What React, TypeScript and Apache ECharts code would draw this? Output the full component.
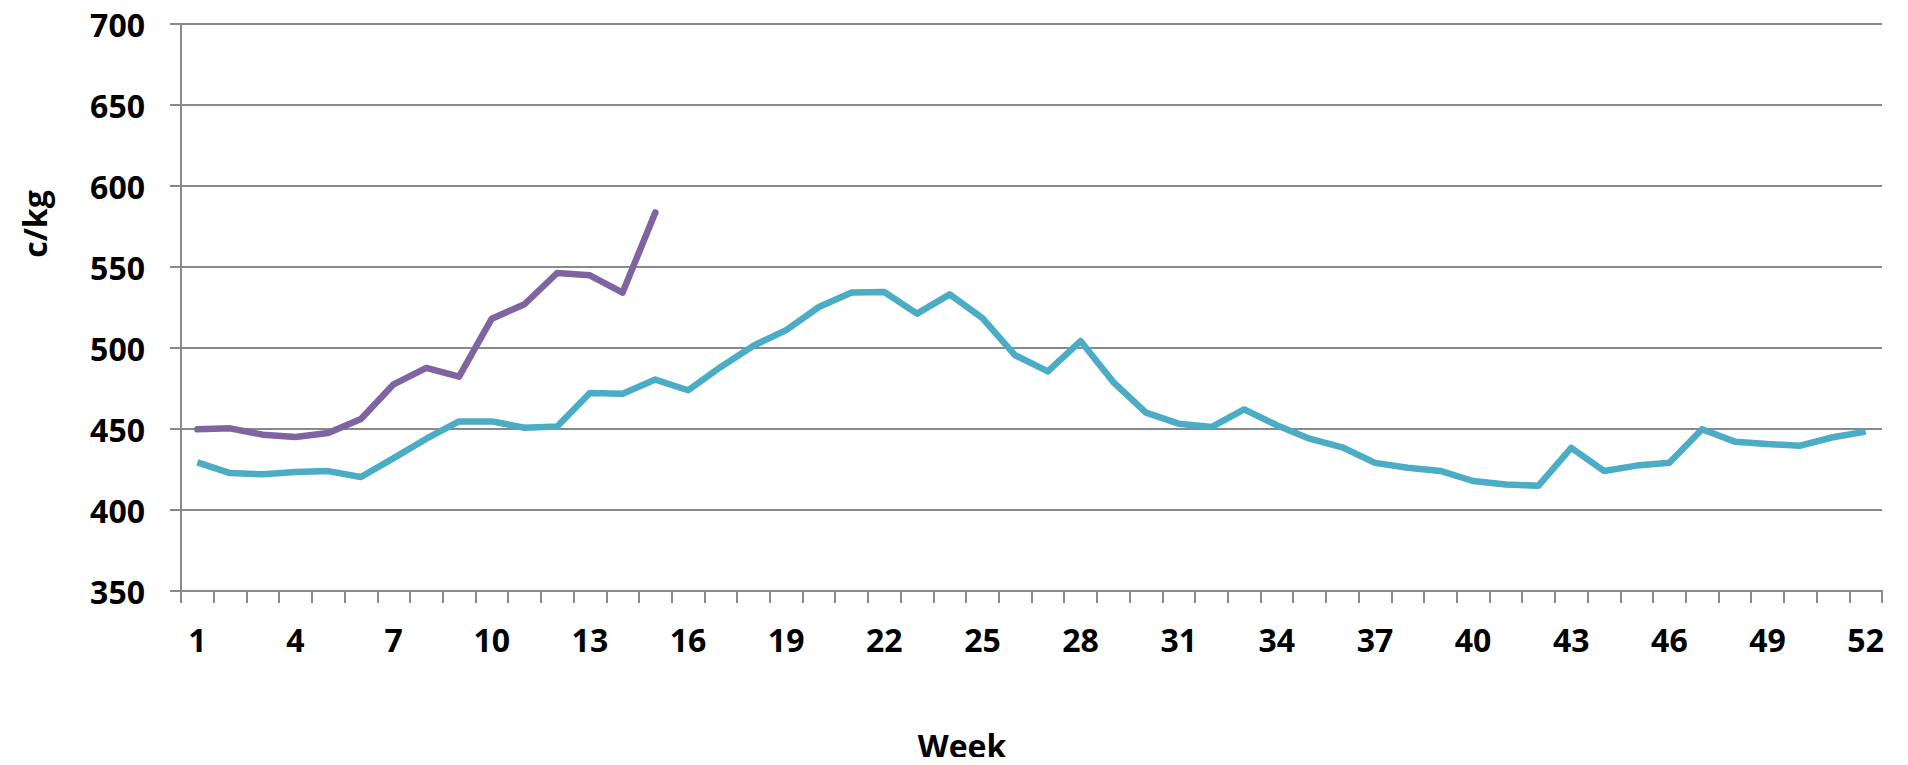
import React, { useEffect, useRef } from "react";
import * as echarts from "echarts";

const weeks: string[] = Array.from({ length: 52 }, (_, i) => String(i + 1));

const seriesBlue: number[] = [
  429.4, 422.8, 422, 423.5, 424, 420.4, 432, 444, 454.7, 454.7,
  450.8, 451.6, 472.2, 471.8, 480.5, 473.9, 488.3, 501.4, 511, 525.3,
  534.2, 534.6, 521.2, 533.1, 518.5, 495.5, 485.6, 504.3, 479, 460.1,
  453.3, 451.2, 462.1, 452.3, 444, 438.7, 429.1, 426.1, 424.1, 417.9,
  415.8, 415, 438.3, 424.1, 427.4, 429.1, 449.9, 442.2, 440.7, 439.7,
  444.9, 448.4,
];

const seriesPurple: (number | null)[] = [
  449.8, 450.4, 446.5, 445, 447.5, 456.2, 477.6, 487.7, 482.3, 518.1,
  527, 546.3, 544.9, 534.2, 583.7,
];

const yMin = 350;
const yMax = 700;
const yStep = 50;

const FONT = "'Open Sans', 'Noto Sans', sans-serif";
const GRID_COLOR = "#898989";

export default function App() {
  const ref = useRef<HTMLDivElement>(null);

  useEffect(() => {
    if (!ref.current) return;
    const chart = echarts.init(ref.current, undefined, { renderer: "svg" });
    chart.setOption({
      animation: false,
      backgroundColor: "#ffffff",
      grid: { left: 181, right: 26, top: 24, bottom: 174, containLabel: false },
      xAxis: {
        type: "category",
        data: weeks,
        boundaryGap: true,
        axisLine: { show: true, lineStyle: { color: GRID_COLOR, width: 2 } },
        axisTick: { show: true, interval: 0, length: 12, lineStyle: { color: GRID_COLOR, width: 2 } },
        axisLabel: {
          interval: 2,
          margin: 32,
          color: "#000",
          fontFamily: FONT,
          fontWeight: "bold",
          fontSize: 32,
        },
        splitLine: { show: false },
      },
      yAxis: {
        type: "value",
        min: yMin,
        max: yMax,
        interval: yStep,
        axisLine: { show: true, lineStyle: { color: GRID_COLOR, width: 2 } },
        axisTick: { show: true, length: 11, lineStyle: { color: GRID_COLOR, width: 2 } },
        axisLabel: {
          margin: 36,
          color: "#000",
          fontFamily: FONT,
          fontWeight: "bold",
          fontSize: 32,
        },
        splitLine: { show: true, lineStyle: { color: GRID_COLOR, width: 2 } },
      },
      series: [
        {
          type: "line",
          data: seriesBlue,
          showSymbol: false,
          symbol: "none",
          lineStyle: { color: "#4BACC6", width: 6.5, join: "round" },
          itemStyle: { color: "#4BACC6" },
          z: 2,
        },
        {
          type: "line",
          data: seriesPurple,
          showSymbol: false,
          symbol: "none",
          lineStyle: { color: "#8064A2", width: 6.5, join: "round", cap: "round" },
          itemStyle: { color: "#8064A2" },
          z: 3,
        },
      ],
      graphic: [
        {
          type: "text",
          x: 962,
          y: 745,
          style: {
            text: "Week",
            fontFamily: FONT,
            fontWeight: "bold",
            fontSize: 32,
            fill: "#000",
            align: "center",
            verticalAlign: "middle",
          },
        },
        {
          type: "text",
          x: 34,
          y: 224,
          rotation: Math.PI / 2,
          style: {
            text: "c/kg",
            fontFamily: FONT,
            fontWeight: "bold",
            fontSize: 32,
            fill: "#000",
            align: "center",
            verticalAlign: "middle",
          },
        },
      ],
    });
    return () => chart.dispose();
  }, []);

  return <div ref={ref} style={{ width: 1908, height: 765, margin: -8 }} />;
}
